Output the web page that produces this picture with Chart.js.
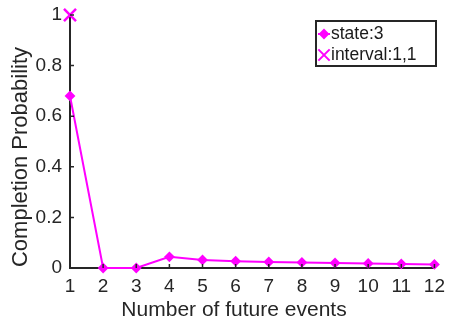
<!DOCTYPE html>
<html lang="en">
<head>
    <meta charset="UTF-8">
    <title>Completion Probability</title>
    <script src="https://cdn.jsdelivr.net/npm/chart.js@4.4.0/dist/chart.umd.min.js"></script>
    <style>
        body { margin: 0; background: #fff; }
        .wrap { width: 452px; height: 320px; }
    </style>
</head>
<body>
    <div class="wrap"><canvas id="chart" width="452" height="320"></canvas></div>

    <script>
        const events = [1, 2, 3, 4, 5, 6, 7, 8, 9, 10, 11, 12];
        const stateValues = [0.68, 0, 0, 0.044, 0.032, 0.027, 0.024, 0.022, 0.020, 0.018, 0.016, 0.014];
        const intervalEvents = [1];
        const intervalValues = [1];
        const yTicks = [0, 0.2, 0.4, 0.6, 0.8, 1];
        const xTitle = 'Number of future events';
        const yTitle = 'Completion Probability';

        const axisColor = '#262626';
        const magenta = '#ff00ff';
        const font = "'Liberation Sans', Arial, sans-serif";

        // MATLAB style ticks pointing into the plot
        const inwardTicks = {
            id: 'inwardTicks',
            afterDraw(chart) {
                const { ctx, chartArea, scales } = chart;
                ctx.save();
                ctx.strokeStyle = axisColor;
                ctx.lineWidth = 1.5;
                ctx.beginPath();
                events.forEach(v => {
                    const x = scales.x.getPixelForValue(v);
                    ctx.moveTo(x, chartArea.bottom);
                    ctx.lineTo(x, chartArea.bottom - 4);
                });
                yTicks.forEach(v => {
                    const y = scales.y.getPixelForValue(v);
                    ctx.moveTo(chartArea.left, y);
                    ctx.lineTo(chartArea.left + 4, y);
                });
                ctx.stroke();
                ctx.restore();
            }
        };

        // axis titles, placed like the MATLAB figure (centred on the figure, not the axes)
        const axisTitles = {
            id: 'axisTitles',
            afterDraw(chart) {
                const { ctx } = chart;
                ctx.save();
                ctx.fillStyle = axisColor;
                ctx.font = '21px ' + font;
                ctx.textAlign = 'center';
                ctx.textBaseline = 'alphabetic';
                ctx.fillText(xTitle, 234, 316);
                ctx.translate(27, 157);
                ctx.rotate(-Math.PI / 2);
                ctx.font = '22px ' + font;
                ctx.fillText(yTitle, 0, 0);
                ctx.restore();
            }
        };

        const boxLegend = {
            id: 'boxLegend',
            afterDraw(chart) {
                const { ctx } = chart;
                const x0 = 316, y0 = 21, w = 120, h = 45;
                ctx.save();
                ctx.fillStyle = '#fff';
                ctx.fillRect(x0, y0, w, h);
                ctx.strokeStyle = axisColor;
                ctx.lineWidth = 2;
                ctx.strokeRect(x0, y0, w, h);
                ctx.font = '17.5px ' + font;
                ctx.fillStyle = '#1a1a1a';
                ctx.textBaseline = 'middle';
                ctx.fillText('state:3', x0 + 15, y0 + 13);
                ctx.fillText('interval:1,1', x0 + 15, y0 + 34);
                // markers
                ctx.strokeStyle = magenta;
                ctx.fillStyle = magenta;
                ctx.lineWidth = 2;
                ctx.beginPath();
                ctx.moveTo(x0 + 2, y0 + 13);
                ctx.lineTo(x0 + 14, y0 + 13);
                ctx.stroke();
                Chart.helpers.drawPoint(ctx, { pointStyle: 'rectRot', radius: 4, borderWidth: 1 }, x0 + 8, y0 + 13);
                Chart.helpers.drawPoint(ctx, { pointStyle: 'crossRot', radius: 8, borderWidth: 2.5 }, x0 + 8, y0 + 34);
                ctx.restore();
            }
        };

        new Chart(document.getElementById('chart'), {
            type: 'line',
            data: {
                datasets: [
                    {
                        label: 'state:3',
                        data: events.map((e, i) => ({ x: e, y: stateValues[i] })),
                        borderColor: magenta,
                        backgroundColor: magenta,
                        borderWidth: 2,
                        pointStyle: 'rectRot',
                        pointRadius: 4,
                        tension: 0,
                        clip: false
                    },
                    {
                        label: 'interval:1,1',
                        data: intervalEvents.map((e, i) => ({ x: e, y: intervalValues[i] })),
                        borderColor: magenta,
                        backgroundColor: magenta,
                        showLine: false,
                        pointStyle: 'crossRot',
                        pointRadius: 8.5,
                        pointBorderWidth: 2.5,
                        clip: false
                    }
                ]
            },
            options: {
                responsive: false,
                animation: false,
                layout: { padding: { top: 15, right: 11, left: 0, bottom: 0 } },
                plugins: { legend: { display: false }, tooltip: { enabled: false } },
                scales: {
                    x: {
                        type: 'linear',
                        min: 1,
                        max: 12,
                        afterBuildTicks: s => { s.ticks = events.map(v => ({ value: v })); },
                        afterFit: s => { s.height = 52; },
                        border: { color: axisColor, width: 2 },
                        grid: { display: false, drawTicks: false },
                        ticks: {
                            color: '#262626',
                            padding: 7,
                            font: { family: font, size: 19 }
                        }
                    },
                    y: {
                        min: 0,
                        max: 1,
                        afterBuildTicks: s => { s.ticks = yTicks.map(v => ({ value: v })); },
                        afterFit: s => { s.width = 70; s.paddingTop = 0; s.paddingBottom = 0; },
                        border: { color: axisColor, width: 2 },
                        grid: { display: false, drawTicks: false },
                        ticks: {
                            color: '#262626',
                            padding: 8,
                            font: { family: font, size: 19 },
                            callback: v => String(v)
                        }
                    }
                }
            },
            plugins: [inwardTicks, axisTitles, boxLegend]
        });
    </script>
</body>
</html>
